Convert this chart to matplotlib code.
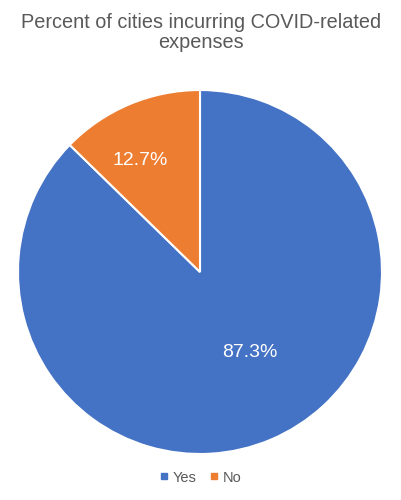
import matplotlib
matplotlib.use("Agg")
import matplotlib.pyplot as plt
import numpy as np

plt.rcParams['font.family'] = ['Liberation Sans', 'DejaVu Sans']

title = "Percent of cities incurring COVID-related\nexpenses"
categories = ["Yes", "No"]
values = [87.3, 12.7]
colors = ["#4472C4", "#ED7D31"]

fig = plt.figure(figsize=(4.02, 5.0), dpi=100)
fig.patch.set_facecolor("white")
ax = fig.add_axes([18/402, 46/500, 364/402, 364/500])

wedges, texts, autotexts = ax.pie(
    values, colors=colors, startangle=90, counterclock=False,
    radius=1.0, autopct=lambda p: f"{p:.1f}%", pctdistance=0.6,
    wedgeprops=dict(edgecolor="white", linewidth=1.5),
    textprops=dict(color="white", fontsize=14),
)
ax.set_xlim(-1, 1)
ax.set_ylim(-1, 1)
ax.set_aspect("equal")

# label placement similar to reference
autotexts[0].set_position((0.275, -0.44))
autotexts[1].set_position((-0.33, 0.615))
for t in autotexts:
    t.set_ha("center"); t.set_va("center")

fig.text(0.5, 0.975, title, ha="center", va="top", fontsize=14.3,
         color="#595959", linespacing=1.12)

handles = [plt.Line2D([], [], marker="s", linestyle="none", markersize=4.5,
                      markerfacecolor=c, markeredgecolor=c) for c in colors]
fig.legend(handles, categories, loc="center", bbox_to_anchor=(0.5, 0.045),
           ncol=2, frameon=False, fontsize=10.5, labelcolor="#595959",
           handlelength=0.6, handletextpad=0.3, columnspacing=0.9)

fig.savefig("out.png", dpi=100)
